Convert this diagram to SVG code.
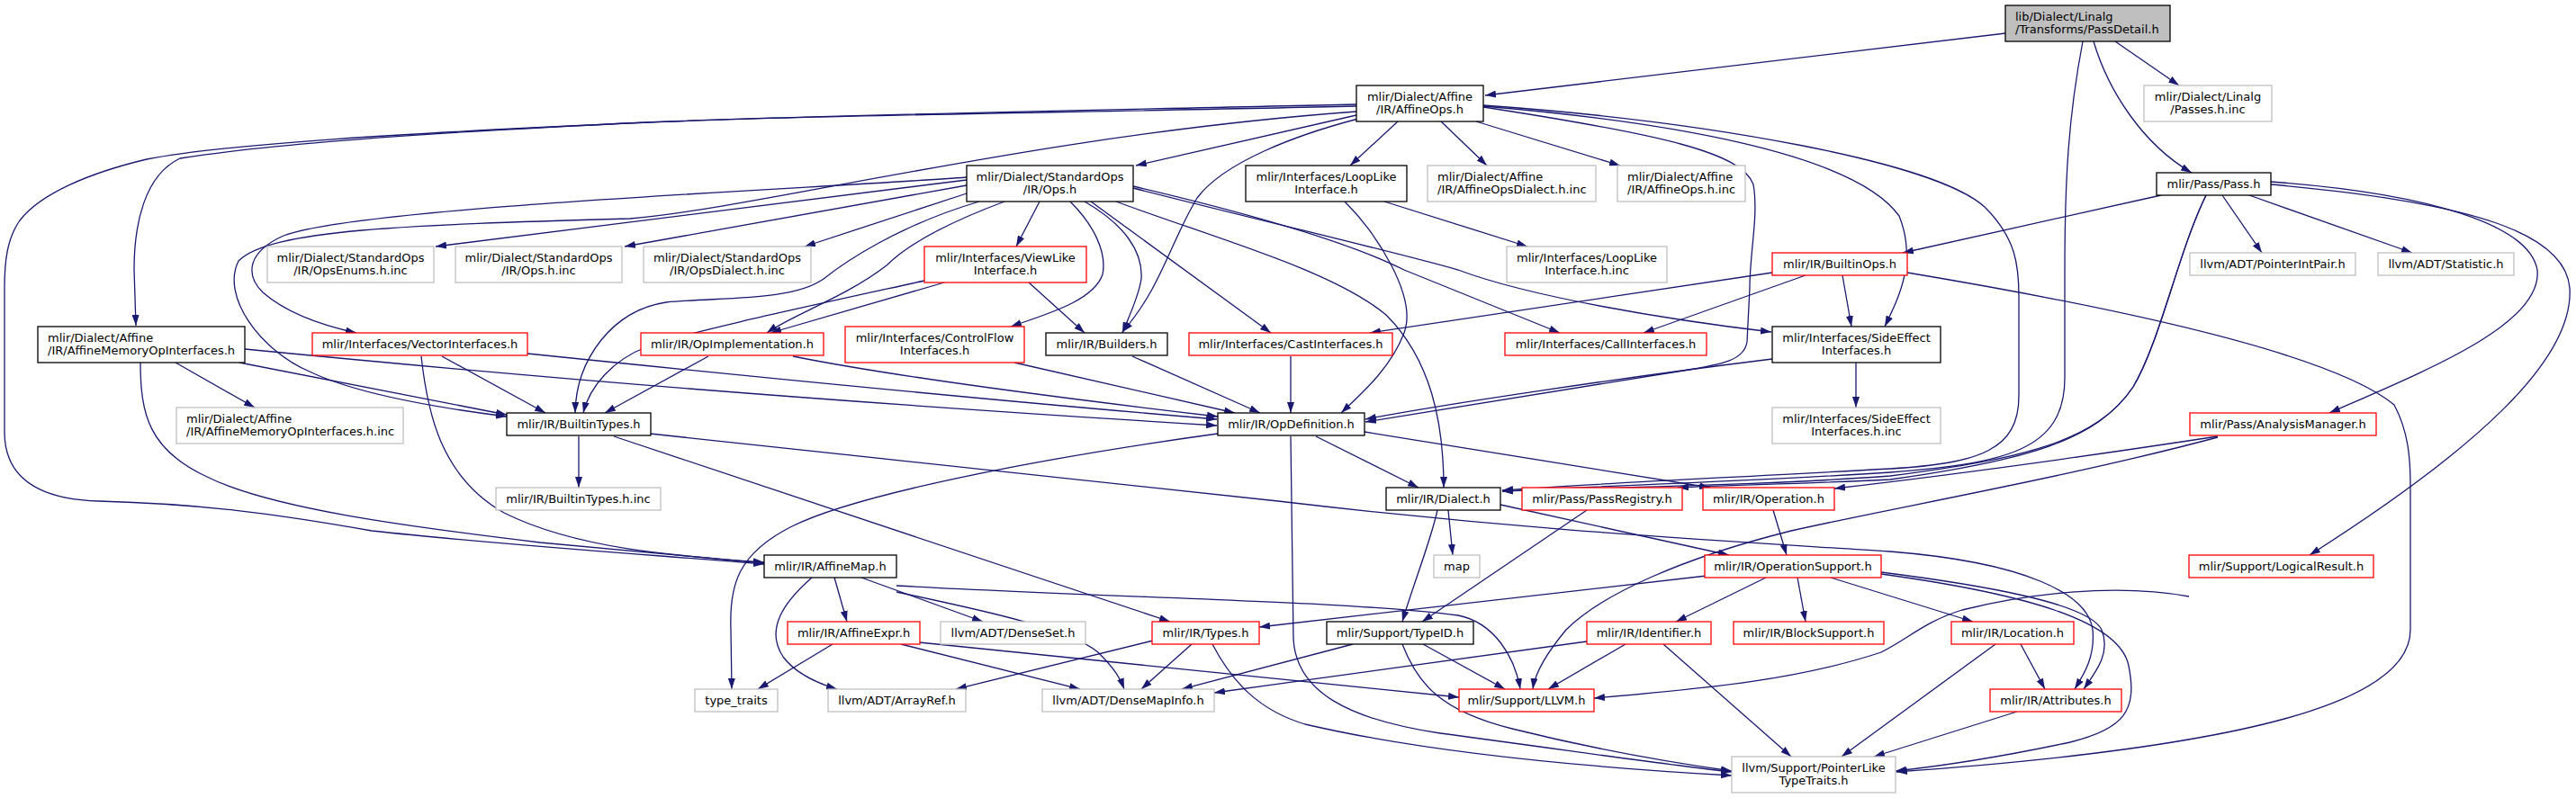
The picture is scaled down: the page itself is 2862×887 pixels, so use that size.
<svg xmlns="http://www.w3.org/2000/svg" width="2862" height="887" viewBox="0 0 2862 887">
<style>
.e{fill:none;stroke:#191970;stroke-width:1.3;marker-end:url(#a)}
rect{fill:#fff;stroke-width:1.3}
.k rect{stroke:#000}
.r rect{stroke:#ff0000}
.g rect{stroke:#bfbfbf}
.root rect{fill:#bfbfbf;stroke:#000}
text{font-family:"DejaVu Sans","Liberation Sans",sans-serif;font-size:13px;fill:#000;text-anchor:middle}
text.l{text-anchor:start}
</style>
<defs>
<marker id="a" markerUnits="userSpaceOnUse" markerWidth="12" markerHeight="8" refX="12" refY="4" orient="auto"><path d="M0,0 L12,4 L0,8 z" fill="#191970"/></marker>
</defs>
<rect x="0" y="0" width="2862" height="887" style="fill:#fff;stroke:none"/>
<g id="connectors">
<path class="e" d="M2228,37 L1650,106"/>
<path class="e" d="M2350,46 L2421,95"/>
<path class="e" d="M2326,46 C2342,100 2380,160 2435,192"/>
<path class="e" d="M2314,46 C2298,130 2294,200 2294,300 L2294,420 C2294,500 2230,515 2100,525 C1950,535 1780,540 1669,546"/>
<path class="e" d="M1507,118 C1200,125 900,128 720,136 C500,146 300,160 200,176 C160,195 149,250 149,300 L151,362"/>
<path class="e" d="M1507,116 C1200,123 900,128 720,136 C450,148 250,160 163,177 C100,192 45,215 22,245 C8,265 5,290 5,320 L5,480 C5,530 40,555 110,557 C220,560 300,570 413,590 C550,605 700,615 849,627"/>
<path class="e" d="M1507,124 C1150,150 850,230 700,243 C450,250 300,255 265,290 C245,330 290,390 344,413 C400,440 500,455 563,463"/>
<path class="e" d="M1507,128 L1262,184"/>
<path class="e" d="M1509,132 C1440,150 1360,180 1330,220 C1300,270 1290,320 1247,369"/>
<path class="e" d="M1553,135 L1500,184"/>
<path class="e" d="M1601,135 L1652,184"/>
<path class="e" d="M1640,135 L1800,184"/>
<path class="e" d="M1648,118 C1850,135 2060,170 2110,240 C2130,290 2110,330 2094,363"/>
<path class="e" d="M1648,119 C1850,150 1935,170 1948,205 C1954,240 1944,280 1944,320 L1941,380 C1938,400 1915,405 1870,412 C1700,440 1600,455 1517,469"/>
<path class="e" d="M1648,117 C1900,135 2150,180 2205,230 C2240,265 2243,295 2243,330 L2243,440 C2243,500 2200,515 2100,521 C1900,532 1760,538 1669,545"/>
<path class="e" d="M1074,200 L484,274"/>
<path class="e" d="M1074,206 L694,274"/>
<path class="e" d="M1074,197 C900,210 400,230 315,262 C275,280 272,305 292,325 C315,345 350,360 396,370"/>
<path class="e" d="M1074,215 L894,274"/>
<path class="e" d="M1088,224 C1000,250 940,290 915,310 C880,335 800,330 740,336 C680,345 640,400 639,459"/>
<path class="e" d="M1116,224 C1060,245 1010,270 985,295 C940,330 880,350 852,370"/>
<path class="e" d="M1155,224 L1129,274"/>
<path class="e" d="M1189,224 C1215,250 1230,280 1225,305 C1215,335 1160,350 1123,363"/>
<path class="e" d="M1205,224 C1250,250 1270,280 1268,310 C1265,330 1255,350 1247,370"/>
<path class="e" d="M1212,224 L1412,370"/>
<path class="e" d="M1240,224 C1350,265 1480,300 1540,350 C1590,400 1604,470 1604,542"/>
<path class="e" d="M1259,207 C1400,240 1500,270 1560,300 L1733,370"/>
<path class="e" d="M1259,209 C1400,245 1550,280 1620,300 C1700,330 1850,355 1968,369"/>
<path class="e" d="M1538,224 L1697,274"/>
<path class="e" d="M1494,224 C1530,260 1575,330 1560,370 C1545,410 1510,440 1490,459"/>
<path class="e" d="M2401,217 L2114,281"/>
<path class="e" d="M2469,217 L2513,281"/>
<path class="e" d="M2499,217 L2680,281"/>
<path class="e" d="M2523,202 C2700,215 2810,250 2819,300 C2825,360 2700,410 2588,459"/>
<path class="e" d="M2523,205 C2750,225 2850,260 2855,320 C2860,400 2750,500 2566,617"/>
<path class="e" d="M2451,217 C2420,280 2400,380 2370,430 C2330,490 2250,510 2100,529 C1950,540 1800,541 1669,546"/>
<path class="e" d="M2451,217 C2420,280 2400,380 2370,430 C2330,490 2250,512 2100,533 C2000,538 1920,539 1864,542"/>
<path class="e" d="M1969,303 L1522,370"/>
<path class="e" d="M2006,306 L1826,370"/>
<path class="e" d="M2047,306 L2057,363"/>
<path class="e" d="M2119,303 C2400,350 2600,400 2660,450 C2676,480 2678,510 2678,540 L2678,700 C2678,780 2500,830 2107,858"/>
<path class="e" d="M195,403 L283,453"/>
<path class="e" d="M266,403 L563,461"/>
<path class="e" d="M272,388 C600,420 900,445 1352,473"/>
<path class="e" d="M156,403 C156,460 165,500 230,530 C300,565 450,585 600,603 L849,626"/>
<path class="e" d="M491,396 L606,459"/>
<path class="e" d="M586,393 C800,415 1100,445 1352,466"/>
<path class="e" d="M468,396 C475,460 490,530 560,570 C640,610 750,618 849,625"/>
<path class="e" d="M787,396 L672,459"/>
<path class="e" d="M881,396 C1000,420 1200,445 1353,463"/>
<path class="e" d="M1127,403 L1372,459"/>
<path class="e" d="M1258,396 L1400,459"/>
<path class="e" d="M1434,396 L1434,459"/>
<path class="e" d="M1027,312 C900,340 760,370 720,385 C680,400 655,430 648,459"/>
<path class="e" d="M1049,314 L856,370"/>
<path class="e" d="M1143,314 L1205,370"/>
<path class="e" d="M2062,403 L2062,453"/>
<path class="e" d="M1969,399 C1800,420 1600,450 1517,466"/>
<path class="e" d="M643,485 L643,542"/>
<path class="e" d="M682,485 L1300,691"/>
<path class="e" d="M722,482 L1420,557 C1700,590 1900,600 2100,613 C2250,625 2320,660 2325,700 C2328,730 2315,750 2305,766"/>
<path class="e" d="M1462,485 L1576,542"/>
<path class="e" d="M1516,480 L1900,542"/>
<path class="e" d="M1353,482 C1150,510 950,550 880,585 C820,615 810,650 812,700 L813,766"/>
<path class="e" d="M1434,485 L1437,710 C1440,770 1500,800 1600,815 C1750,835 1850,850 1924,858"/>
<path class="e" d="M2464,485 C2300,510 2150,530 2038,543"/>
<path class="e" d="M2464,486 C2300,530 2100,565 1990,590 C1870,620 1780,660 1740,700 C1715,730 1705,750 1703,766"/>
<path class="e" d="M1609,567 L1614,617"/>
<path class="e" d="M1597,567 C1590,600 1570,650 1558,691"/>
<path class="e" d="M1667,561 L1921,617"/>
<path class="e" d="M1763,567 L1580,691"/>
<path class="e" d="M1970,567 L1985,617"/>
<path class="e" d="M927,642 L941,691"/>
<path class="e" d="M957,642 L1092,691"/>
<path class="e" d="M902,642 C870,670 850,700 870,730 C885,750 910,760 930,766"/>
<path class="e" d="M996,658 C1100,680 1190,700 1220,725 C1240,745 1245,755 1249,766"/>
<path class="e" d="M996,651 C1250,665 1500,668 1620,684 C1660,692 1683,730 1689,766"/>
<path class="e" d="M1896,640 L1399,697"/>
<path class="e" d="M1962,642 L1862,691"/>
<path class="e" d="M1997,642 L2006,691"/>
<path class="e" d="M2034,642 L2192,691"/>
<path class="e" d="M2090,636 C2200,650 2320,670 2335,700 C2345,725 2330,745 2315,766"/>
<path class="e" d="M2090,638 C2250,660 2355,690 2365,740 C2375,790 2360,810 2300,825 C2230,840 2170,850 2106,857"/>
<path class="e" d="M2432,663 C2350,648 2250,660 2180,678 C2140,690 2120,710 2090,725 C2000,755 1900,765 1771,776"/>
<path class="e" d="M925,716 L842,766"/>
<path class="e" d="M1001,716 L1200,766"/>
<path class="e" d="M1021,714 L1621,775"/>
<path class="e" d="M1281,712 L1062,766"/>
<path class="e" d="M1324,716 L1268,766"/>
<path class="e" d="M1347,716 C1370,760 1400,790 1450,805 C1600,840 1800,855 1924,862"/>
<path class="e" d="M1503,716 L1313,766"/>
<path class="e" d="M1581,716 L1672,766"/>
<path class="e" d="M1558,716 C1575,760 1600,790 1680,810 C1780,835 1860,848 1924,857"/>
<path class="e" d="M1763,713 L1349,770"/>
<path class="e" d="M1806,716 L1720,766"/>
<path class="e" d="M1848,716 L1990,841"/>
<path class="e" d="M2245,716 L2272,766"/>
<path class="e" d="M2217,716 L2046,841"/>
<path class="e" d="M2241,791 L2082,841"/>
</g>
<g id="n0" class="root"><rect x="2228" y="6" width="183" height="40"/><text class="l" x="2239" y="23">lib/Dialect/Linalg</text><text class="l" x="2239" y="37">/Transforms/PassDetail.h</text></g>
<g id="n1" class="k"><rect x="1507" y="95" width="141" height="40"/><text x="1577.5" y="112">mlir/Dialect/Affine</text><text x="1577.5" y="126">/IR/AffineOps.h</text></g>
<g id="n2" class="g"><rect x="2382" y="95" width="142" height="40"/><text x="2453" y="112">mlir/Dialect/Linalg</text><text x="2453" y="126">/Passes.h.inc</text></g>
<g id="n3" class="k"><rect x="1074" y="184" width="185" height="40"/><text x="1166.5" y="201">mlir/Dialect/StandardOps</text><text x="1166.5" y="215">/IR/Ops.h</text></g>
<g id="n4" class="k"><rect x="1384" y="184" width="179" height="40"/><text x="1473.5" y="201">mlir/Interfaces/LoopLike</text><text x="1473.5" y="215">Interface.h</text></g>
<g id="n5" class="g"><rect x="1586" y="184" width="187" height="40"/><text class="l" x="1597" y="201">mlir/Dialect/Affine</text><text class="l" x="1597" y="215">/IR/AffineOpsDialect.h.inc</text></g>
<g id="n6" class="g"><rect x="1797" y="184" width="142" height="40"/><text class="l" x="1808" y="201">mlir/Dialect/Affine</text><text class="l" x="1808" y="215">/IR/AffineOps.h.inc</text></g>
<g id="n7" class="k"><rect x="2396" y="192" width="127" height="25"/><text x="2459.5" y="209">mlir/Pass/Pass.h</text></g>
<g id="n8" class="g"><rect x="297" y="274" width="185" height="40"/><text x="389.5" y="291">mlir/Dialect/StandardOps</text><text x="389.5" y="305">/IR/OpsEnums.h.inc</text></g>
<g id="n9" class="g"><rect x="506" y="274" width="185" height="40"/><text x="598.5" y="291">mlir/Dialect/StandardOps</text><text x="598.5" y="305">/IR/Ops.h.inc</text></g>
<g id="n10" class="g"><rect x="715" y="274" width="186" height="40"/><text x="808" y="291">mlir/Dialect/StandardOps</text><text x="808" y="305">/IR/OpsDialect.h.inc</text></g>
<g id="n11" class="r"><rect x="1027" y="274" width="180" height="40"/><text x="1117" y="291">mlir/Interfaces/ViewLike</text><text x="1117" y="305">Interface.h</text></g>
<g id="n12" class="g"><rect x="1674" y="274" width="178" height="40"/><text x="1763" y="291">mlir/Interfaces/LoopLike</text><text x="1763" y="305">Interface.h.inc</text></g>
<g id="n13" class="r"><rect x="1969" y="281" width="150" height="25"/><text x="2044" y="298">mlir/IR/BuiltinOps.h</text></g>
<g id="n14" class="g"><rect x="2433" y="281" width="184" height="25"/><text x="2525" y="298">llvm/ADT/PointerIntPair.h</text></g>
<g id="n15" class="g"><rect x="2642" y="281" width="151" height="25"/><text x="2717.5" y="298">llvm/ADT/Statistic.h</text></g>
<g id="n16" class="k"><rect x="42" y="363" width="230" height="40"/><text class="l" x="53" y="380">mlir/Dialect/Affine</text><text class="l" x="53" y="394">/IR/AffineMemoryOpInterfaces.h</text></g>
<g id="n17" class="r"><rect x="347" y="370" width="239" height="25"/><text x="466.5" y="387">mlir/Interfaces/VectorInterfaces.h</text></g>
<g id="n18" class="r"><rect x="712" y="370" width="203" height="25"/><text x="813.5" y="387">mlir/IR/OpImplementation.h</text></g>
<g id="n19" class="r"><rect x="939" y="363" width="199" height="40"/><text x="1038.5" y="380">mlir/Interfaces/ControlFlow</text><text x="1038.5" y="394">Interfaces.h</text></g>
<g id="n20" class="k"><rect x="1162" y="370" width="135" height="25"/><text x="1229.5" y="387">mlir/IR/Builders.h</text></g>
<g id="n21" class="r"><rect x="1321" y="370" width="226" height="25"/><text x="1434" y="387">mlir/Interfaces/CastInterfaces.h</text></g>
<g id="n22" class="r"><rect x="1672" y="370" width="224" height="25"/><text x="1784" y="387">mlir/Interfaces/CallInterfaces.h</text></g>
<g id="n23" class="k"><rect x="1969" y="363" width="187" height="40"/><text x="2062.5" y="380">mlir/Interfaces/SideEffect</text><text x="2062.5" y="394">Interfaces.h</text></g>
<g id="n24" class="g"><rect x="196" y="453" width="252" height="40"/><text class="l" x="207" y="470">mlir/Dialect/Affine</text><text class="l" x="207" y="484">/IR/AffineMemoryOpInterfaces.h.inc</text></g>
<g id="n25" class="k"><rect x="563" y="459" width="160" height="25"/><text x="643" y="476">mlir/IR/BuiltinTypes.h</text></g>
<g id="n26" class="k"><rect x="1353" y="459" width="163" height="25"/><text x="1434.5" y="476">mlir/IR/OpDefinition.h</text></g>
<g id="n27" class="g"><rect x="1969" y="453" width="187" height="40"/><text x="2062.5" y="470">mlir/Interfaces/SideEffect</text><text x="2062.5" y="484">Interfaces.h.inc</text></g>
<g id="n28" class="r"><rect x="2433" y="459" width="207" height="25"/><text x="2536.5" y="476">mlir/Pass/AnalysisManager.h</text></g>
<g id="n29" class="g"><rect x="551" y="542" width="183" height="25"/><text x="642.5" y="559">mlir/IR/BuiltinTypes.h.inc</text></g>
<g id="n30" class="k"><rect x="1540" y="542" width="127" height="25"/><text x="1603.5" y="559">mlir/IR/Dialect.h</text></g>
<g id="n31" class="r"><rect x="1691" y="542" width="178" height="25"/><text x="1780" y="559">mlir/Pass/PassRegistry.h</text></g>
<g id="n32" class="r"><rect x="1892" y="542" width="146" height="25"/><text x="1965" y="559">mlir/IR/Operation.h</text></g>
<g id="n33" class="k"><rect x="849" y="617" width="147" height="25"/><text x="922.5" y="634">mlir/IR/AffineMap.h</text></g>
<g id="n34" class="g"><rect x="1593" y="617" width="51" height="25"/><text x="1618.5" y="634">map</text></g>
<g id="n35" class="r"><rect x="1894" y="617" width="196" height="25"/><text x="1992" y="634">mlir/IR/OperationSupport.h</text></g>
<g id="n36" class="r"><rect x="2432" y="617" width="205" height="25"/><text x="2534.5" y="634">mlir/Support/LogicalResult.h</text></g>
<g id="n37" class="r"><rect x="875" y="691" width="147" height="25"/><text x="948.5" y="708">mlir/IR/AffineExpr.h</text></g>
<g id="n38" class="g"><rect x="1045" y="691" width="161" height="25"/><text x="1125.5" y="708">llvm/ADT/DenseSet.h</text></g>
<g id="n39" class="r"><rect x="1280" y="691" width="119" height="25"/><text x="1339.5" y="708">mlir/IR/Types.h</text></g>
<g id="n40" class="k"><rect x="1474" y="691" width="163" height="25"/><text x="1555.5" y="708">mlir/Support/TypeID.h</text></g>
<g id="n41" class="r"><rect x="1763" y="691" width="138" height="25"/><text x="1832" y="708">mlir/IR/Identifier.h</text></g>
<g id="n42" class="r"><rect x="1926" y="691" width="167" height="25"/><text x="2009.5" y="708">mlir/IR/BlockSupport.h</text></g>
<g id="n43" class="r"><rect x="2168" y="691" width="136" height="25"/><text x="2236" y="708">mlir/IR/Location.h</text></g>
<g id="n44" class="g"><rect x="772" y="766" width="92" height="25"/><text x="818" y="783">type_traits</text></g>
<g id="n45" class="g"><rect x="920" y="766" width="153" height="25"/><text x="996.5" y="783">llvm/ADT/ArrayRef.h</text></g>
<g id="n46" class="g"><rect x="1158" y="766" width="191" height="25"/><text x="1253.5" y="783">llvm/ADT/DenseMapInfo.h</text></g>
<g id="n47" class="r"><rect x="1621" y="766" width="150" height="25"/><text x="1696" y="783">mlir/Support/LLVM.h</text></g>
<g id="n48" class="r"><rect x="2211" y="766" width="146" height="25"/><text x="2284" y="783">mlir/IR/Attributes.h</text></g>
<g id="n49" class="g"><rect x="1924" y="841" width="182" height="40"/><text x="2015" y="858">llvm/Support/PointerLike</text><text x="2015" y="872">TypeTraits.h</text></g>
</svg>
